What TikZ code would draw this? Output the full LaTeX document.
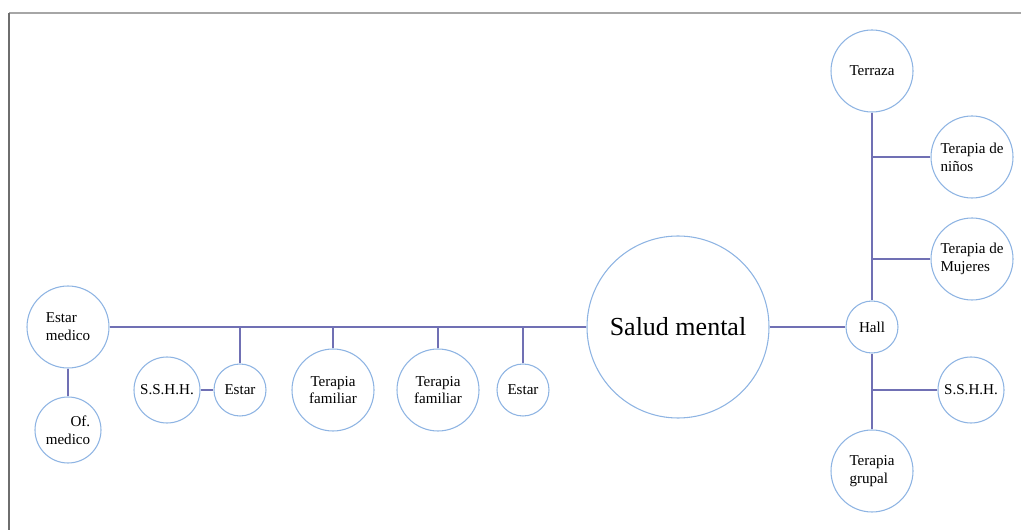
\documentclass[tikz,border=0pt]{standalone}
\usepackage{fontspec}
\setmainfont{Liberation Serif}
\usepackage{xcolor}
\usetikzlibrary{positioning,calc}
\definecolor{roomblue}{HTML}{8EB4E3}
\definecolor{linkblue}{HTML}{7070B4}
\definecolor{frametop}{HTML}{A6A6A6}
\definecolor{frameleft}{HTML}{6E6E6E}
\tikzset{
  room/.style={circle,draw=roomblue,fill=white,line width=0.8pt,
               inner sep=1pt,align=left,
               font=\fontsize{11.3}{13.3}\selectfont},
  bigroom/.style={room,minimum size=61.5pt},
  midroom/.style={room,minimum size=49.5pt},
  smallroom/.style={room,minimum size=39pt},
  hubroom/.style={room,minimum size=136.5pt,
                  font=\fontsize{19.5}{22}\selectfont},
  link/.style={draw=linkblue,line width=0.9pt}
}
\begin{document}
\begin{tikzpicture}[x=0.75pt,y=-0.75pt]
  \useasboundingbox (0,0) rectangle (1021,530);
  % marco
  \draw[frametop,line width=1.3pt] (9,13) -- (1021,13);
  \draw[frameleft,line width=1.1pt] (9,13) -- (9,530);

  % ala izquierda
  \node[bigroom] (medico) at (68,327) {Estar\\medico};
  \node[midroom,align=right] (ofmed) at (68,430) {Of.\\medico};
  \node[midroom] (sshhA) at (167,390) {S.S.H.H.};
  \node[smallroom] (estarA) at (240,390) {Estar};
  \node[bigroom,align=center] (famA) at (333,390) {Terapia\\familiar};
  \node[bigroom,align=center] (famB) at (438,390) {Terapia\\familiar};
  \node[smallroom] (estarB) at (523,390) {Estar};
  \node[hubroom] (salud) at (678,327) {Salud mental};

  % ala derecha
  \node[smallroom] (hall) at (872,327) {Hall};
  \node[bigroom] (terraza) at (872,71) {Terraza};
  \node[bigroom] (ninos) at (972,157) {Terapia de\\niños};
  \node[bigroom] (mujeres) at (972,259) {Terapia de\\Mujeres};
  \node[midroom] (sshhB) at (971,390) {S.S.H.H.};
  \node[bigroom] (grupal) at (872,471) {Terapia\\grupal};

  % conexiones
  \draw[link] (medico.east) -- (salud.west);
  \draw[link] (medico) -- (ofmed);
  \draw[link] (sshhA) -- (estarA);
  \foreach \r in {estarA,famA,famB,estarB}
    \draw[link] (\r) -- (\r |- medico.east);
  \draw[link] (salud) -- (hall);
  \draw[link] (terraza) -- (hall);
  \draw[link] (hall) -- (grupal);
  \foreach \r in {ninos,mujeres,sshhB}
    \draw[link] (\r) -- (\r -| hall);
\end{tikzpicture}
\end{document}
